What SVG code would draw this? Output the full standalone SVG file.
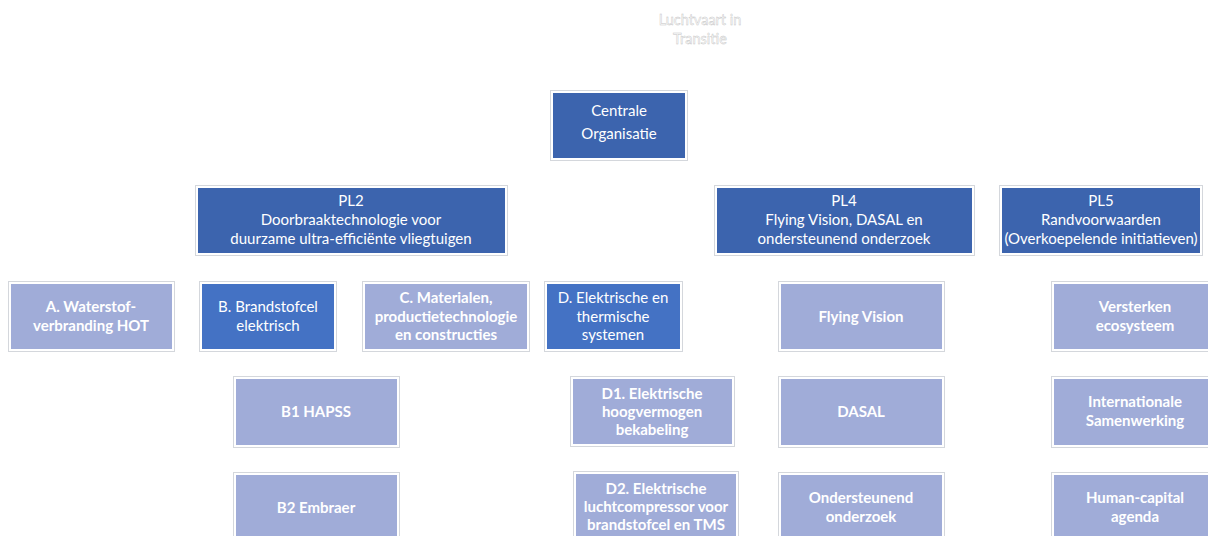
<svg xmlns="http://www.w3.org/2000/svg" width="1208" height="536" viewBox="0 0 1208 536">
<style>
.fr{fill:#ffffff;stroke:#d4d7dc;stroke-width:1}
.dk{fill:#3C64AE}
.md{fill:#4472C4}
.lt{fill:#A0ACD8}
text{font-family:Lato,"Liberation Sans",sans-serif;fill:#ffffff;text-anchor:middle;dominant-baseline:central;font-size:15px}
.b{font-weight:bold}
.ttl{stroke:#c4c4c4;stroke-width:0.45;font-size:14.5px}
</style>
<rect width="1208" height="536" fill="#ffffff"/>
<g id="title">
<text class="ttl" x="700" y="19">Luchtvaart in</text>
<text class="ttl" x="700" y="38">Transitie</text>
</g>
<g id="connectors"></g>
<g id="central">
<rect class="fr" x="550.5" y="90.5" width="137" height="70"/>
<rect class="dk" x="553" y="93" width="132" height="65"/>
<text x="619" y="110">Centrale</text>
<text x="619" y="133">Organisatie</text>
</g>
<g id="pl2">
<rect class="fr" x="195.5" y="185.5" width="312" height="70"/>
<rect class="dk" x="198" y="188" width="307" height="65"/>
<text x="351" y="200">PL2</text>
<text x="351" y="219">Doorbraaktechnologie voor</text>
<text x="351" y="238">duurzame ultra-efficiënte vliegtuigen</text>
</g>
<g id="pl4">
<rect class="fr" x="714.5" y="185.5" width="260" height="70"/>
<rect class="dk" x="717" y="188" width="255" height="65"/>
<text x="844" y="200">PL4</text>
<text x="844" y="219">Flying Vision, DASAL en</text>
<text x="844" y="238">ondersteunend onderzoek</text>
</g>
<g id="pl5">
<rect class="fr" x="999.5" y="185.5" width="203" height="70"/>
<rect class="dk" x="1002" y="188" width="198" height="65"/>
<text x="1101" y="200">PL5</text>
<text x="1101" y="219">Randvoorwaarden</text>
<text x="1101" y="238">(Overkoepelende initiatieven)</text>
</g>
<g id="a">
<rect class="fr" x="8.5" y="281.5" width="166" height="70"/>
<rect class="lt" x="11" y="284" width="161" height="65"/>
<text class="b" x="91" y="306">A. Waterstof-</text>
<text class="b" x="91" y="325">verbranding HOT</text>
</g>
<g id="b">
<rect class="fr" x="199.5" y="281.5" width="137" height="70"/>
<rect class="md" x="202" y="284" width="132" height="65"/>
<text x="268" y="306">B. Brandstofcel</text>
<text x="268" y="325">elektrisch</text>
</g>
<g id="c">
<rect class="fr" x="362.5" y="281.5" width="167" height="70"/>
<rect class="lt" x="365" y="284" width="162" height="65"/>
<text class="b" x="446" y="297">C. Materialen,</text>
<text class="b" x="446" y="316">productietechnologie</text>
<text class="b" x="446" y="334">en constructies</text>
</g>
<g id="d">
<rect class="fr" x="544.5" y="281.5" width="138" height="70"/>
<rect class="md" x="547" y="284" width="133" height="65"/>
<text x="613" y="297">D. Elektrische en</text>
<text x="613" y="316">thermische</text>
<text x="613" y="334">systemen</text>
</g>
<g id="b1">
<rect class="fr" x="233.5" y="376.5" width="166" height="71"/>
<rect class="lt" x="236" y="379" width="161" height="66"/>
<text class="b" x="316" y="411">B1 HAPSS</text>
</g>
<g id="b2">
<rect class="fr" x="233.5" y="472.5" width="166" height="71"/>
<rect class="lt" x="236" y="475" width="161" height="66"/>
<text class="b" x="316" y="507">B2 Embraer</text>
</g>
<g id="d1">
<rect class="fr" x="570.5" y="376.5" width="164" height="70"/>
<rect class="lt" x="573" y="379" width="159" height="65"/>
<text class="b" x="652" y="393">D1. Elektrische</text>
<text class="b" x="652" y="411">hoogvermogen</text>
<text class="b" x="652" y="429">bekabeling</text>
</g>
<g id="d2">
<rect class="fr" x="573.5" y="471.5" width="165" height="71"/>
<rect class="lt" x="576" y="474" width="160" height="66"/>
<text class="b" x="656" y="488">D2. Elektrische</text>
<text class="b" x="656" y="506">luchtcompressor voor</text>
<text class="b" x="656" y="524">brandstofcel en TMS</text>
</g>
<g id="flyingvision">
<rect class="fr" x="778.5" y="281.5" width="166" height="70"/>
<rect class="lt" x="781" y="284" width="161" height="65"/>
<text class="b" x="861" y="316">Flying Vision</text>
</g>
<g id="dasal">
<rect class="fr" x="778.5" y="376.5" width="166" height="71"/>
<rect class="lt" x="781" y="379" width="161" height="66"/>
<text class="b" x="861" y="411">DASAL</text>
</g>
<g id="ondersteunend">
<rect class="fr" x="778.5" y="472.5" width="166" height="71"/>
<rect class="lt" x="781" y="475" width="161" height="66"/>
<text class="b" x="861" y="497">Ondersteunend</text>
<text class="b" x="861" y="516">onderzoek</text>
</g>
<g id="versterken">
<rect class="fr" x="1051.5" y="281.5" width="166" height="70"/>
<rect class="lt" x="1054" y="284" width="161" height="65"/>
<text class="b" x="1135" y="306">Versterken</text>
<text class="b" x="1135" y="325">ecosysteem</text>
</g>
<g id="internationale">
<rect class="fr" x="1051.5" y="376.5" width="166" height="71"/>
<rect class="lt" x="1054" y="379" width="161" height="66"/>
<text class="b" x="1135" y="401">Internationale</text>
<text class="b" x="1135" y="420">Samenwerking</text>
</g>
<g id="humancapital">
<rect class="fr" x="1051.5" y="472.5" width="166" height="71"/>
<rect class="lt" x="1054" y="475" width="161" height="66"/>
<text class="b" x="1135" y="497">Human-capital</text>
<text class="b" x="1135" y="516">agenda</text>
</g>
</svg>
